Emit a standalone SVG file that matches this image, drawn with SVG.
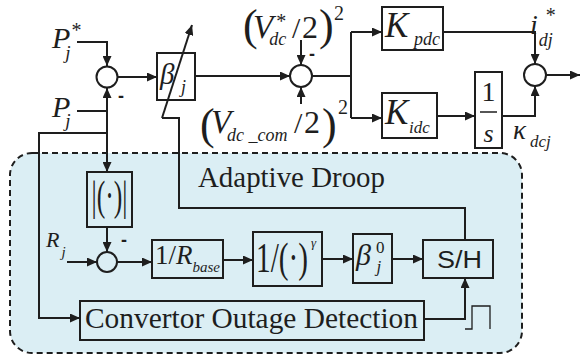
<svg xmlns="http://www.w3.org/2000/svg" width="582" height="360" viewBox="0 0 582 360">
<style>
.ln{fill:none;stroke:#1e1e1e;stroke-width:2}
.thin{fill:none;stroke:#1e1e1e;stroke-width:1.3}
.bx{fill:none;stroke:#1e1e1e;stroke-width:2}
.sj{fill:#fff;stroke:#1e1e1e;stroke-width:2}
.sjb{fill:#dbeef4;stroke:#1e1e1e;stroke-width:2}
text{fill:#1e1e1e}
.mi{font-family:"Liberation Serif",serif;font-style:italic}
.rm{font-family:"Liberation Serif",serif;font-style:normal}
.sf{font-family:"Liberation Sans",sans-serif}
.neg{font-family:"Liberation Sans",sans-serif;font-weight:bold;font-size:18px}
</style>
<defs>
<marker id="ah" markerWidth="10" markerHeight="9" refX="10" refY="4.5" orient="auto" markerUnits="userSpaceOnUse">
<path d="M0,0 L10,4.5 L0,9 z" fill="#1e1e1e"/>
</marker>
</defs>
<rect width="582" height="360" fill="#fff"/>
<g id="droop-region">
<rect x="10" y="153" width="512" height="200" rx="22" fill="#dbeef4" stroke="#1e1e1e" stroke-width="2" stroke-dasharray="6 4"/>
<text class="rm" x="198" y="187" font-size="29" textLength="187" lengthAdjust="spacingAndGlyphs">Adaptive Droop</text>
</g>
<g id="connectors">
<path class="ln" d="M77,42 H107 V66" marker-end="url(#ah)"/>
<path class="ln" d="M77,111 H107 V88" marker-end="url(#ah)"/>
<path class="ln" d="M107,111 V172" marker-end="url(#ah)"/>
<path class="ln" d="M107,133 H39 V318 H80" marker-end="url(#ah)"/>
<path class="ln" d="M118,77 H157" marker-end="url(#ah)"/>
<path class="ln" d="M195,76 H290" marker-end="url(#ah)"/>
<path class="ln" d="M162,118 L192,25" marker-end="url(#ah)"/>
<path class="ln" d="M162,118 H179 V208 H465 V240"/>
<path class="ln" d="M301,40 V65" marker-end="url(#ah)"/>
<path class="ln" d="M301,104 V87" marker-end="url(#ah)"/>
<path class="ln" d="M312,76 H351 M351,32 V118"/>
<path class="ln" d="M351,32 H382" marker-end="url(#ah)"/>
<path class="ln" d="M351,118 H382" marker-end="url(#ah)"/>
<path class="ln" d="M443,32 H535 V64" marker-end="url(#ah)"/>
<path class="ln" d="M437,116 H475" marker-end="url(#ah)"/>
<path class="ln" d="M502,116 H535 V86" marker-end="url(#ah)"/>
<path class="ln" d="M546,75 H580" marker-end="url(#ah)"/>
<path class="ln" d="M107,227 V252" marker-end="url(#ah)"/>
<path class="ln" d="M67,262 H97" marker-end="url(#ah)"/>
<path class="ln" d="M117,262 H152" marker-end="url(#ah)"/>
<path class="ln" d="M223,260 H253" marker-end="url(#ah)"/>
<path class="ln" d="M322,259 H353" marker-end="url(#ah)"/>
<path class="ln" d="M392,259 H423" marker-end="url(#ah)"/>
<path class="ln" d="M424,319 H465 V278" marker-end="url(#ah)"/>
<path class="thin" d="M465,329 H472 V306 H490 V329"/>
</g>
<g id="in-Pref">
<text class="mi" x="52" y="48" font-size="30">P<tspan font-size="19" dx="-5" dy="11">j</tspan><tspan class="rm" font-size="20" dx="1" dy="-22">*</tspan></text>
</g>
<g id="in-P">
<text class="mi" x="52" y="117" font-size="30">P<tspan font-size="19" dx="-5" dy="10">j</tspan></text>
</g>
<g id="sum1">
<circle class="sj" cx="107" cy="77" r="10.5"/>
<text class="neg" x="118" y="102">-</text>
</g>
<g id="beta">
<rect class="bx" x="157" y="53" width="38" height="47"/>
<text class="mi" x="160" y="84" font-size="29">β</text>
<text class="mi" x="181" y="93" font-size="18">j</text>
</g>
<g id="vref">
<text class="rm" x="243" y="40" font-size="44">(</text>
<text class="mi" x="253" y="38" font-size="33">V<tspan class="rm" font-size="20" dx="3" dy="-10">*</tspan><tspan font-size="18" dx="-17" dy="17">dc</tspan></text>
<text class="rm" x="292" y="38" font-size="30">/</text>
<text class="rm" x="302" y="38" font-size="32">2</text>
<text class="rm" x="319" y="40" font-size="44">)</text>
<text class="rm" x="334" y="20" font-size="20">2</text>
</g>
<g id="vcom">
<text class="rm" x="200" y="139" font-size="44">(</text>
<text class="mi" x="211" y="133" font-size="33">V</text>
<text class="mi" x="227" y="141" font-size="18">dc _com</text>
<text class="rm" x="294" y="133" font-size="30">/</text>
<text class="rm" x="304" y="133" font-size="32">2</text>
<text class="rm" x="322" y="139" font-size="44">)</text>
<text class="rm" x="338" y="114" font-size="20">2</text>
</g>
<g id="sum2">
<circle class="sj" cx="301" cy="76" r="11"/>
<text class="neg" x="309" y="60">-</text>
</g>
<g id="kpdc">
<rect class="bx" x="382" y="7" width="61" height="43"/>
<text class="mi" x="385" y="37" font-size="35">K</text>
<text class="mi" x="414" y="45" font-size="18">pdc</text>
</g>
<g id="kidc">
<rect class="bx" x="382" y="93" width="55" height="45"/>
<text class="mi" x="385" y="124" font-size="35">K</text>
<text class="mi" x="409" y="133" font-size="17">idc</text>
</g>
<g id="integrator">
<rect class="bx" x="475" y="72" width="27" height="76"/>
<text class="rm" x="488.5" y="101" font-size="28" text-anchor="middle">1</text>
<line x1="480" y1="112" x2="497" y2="112" stroke="#1e1e1e" stroke-width="1.5"/>
<text class="mi" x="488.5" y="142" font-size="26" text-anchor="middle">s</text>
</g>
<g id="kappa">
<text class="mi" x="513" y="139" font-size="27">κ</text>
<text class="mi" x="530" y="147" font-size="17">dcj</text>
</g>
<g id="sum3">
<circle class="sj" cx="535" cy="75" r="11"/>
</g>
<g id="out-idj">
<text class="mi" x="530" y="34" font-size="28">i<tspan class="rm" font-size="20" dx="8" dy="-12">*</tspan><tspan font-size="18" dx="-17" dy="24">dj</tspan></text>
</g>
<g id="abs">
<rect class="bx" x="87" y="172" width="45" height="55"/>
<text class="rm" x="109.5" y="210" font-size="42" text-anchor="middle" textLength="36" lengthAdjust="spacingAndGlyphs">|(·)|</text>
</g>
<g id="in-R">
<text class="mi" x="46" y="247" font-size="22">R<tspan font-size="15" dx="2" dy="10">j</tspan></text>
</g>
<g id="sum4">
<circle class="sjb" cx="107" cy="262" r="10"/>
<text class="neg" x="121" y="246">-</text>
</g>
<g id="rbase">
<rect class="bx" x="152" y="240" width="71" height="38"/>
<text class="rm" x="155" y="264" font-size="27">1/<tspan class="mi">R</tspan><tspan class="mi" font-size="15" dy="8">base</tspan></text>
</g>
<g id="power">
<rect class="bx" x="253" y="232" width="69" height="54"/>
<text class="rm" x="256" y="272" font-size="42" textLength="52" lengthAdjust="spacingAndGlyphs">1/(·)</text>
<text class="mi" x="311" y="247" font-size="13">γ</text>
</g>
<g id="beta0">
<rect class="bx" x="353" y="234" width="39" height="49"/>
<text class="mi" x="356" y="265" font-size="30">β<tspan class="rm" font-size="17" dx="5" dy="-12">0</tspan><tspan font-size="17" dx="-8" dy="19">j</tspan></text>
</g>
<g id="sh">
<rect class="bx" x="423" y="240" width="70" height="38"/>
<text class="sf" x="437" y="268" font-size="23" textLength="45" lengthAdjust="spacingAndGlyphs">S/H</text>
</g>
<g id="cod">
<rect class="bx" x="80" y="301" width="344" height="39"/>
<text class="rm" x="85" y="328" font-size="29" textLength="333" lengthAdjust="spacingAndGlyphs">Convertor Outage Detection</text>
</g>
</svg>
